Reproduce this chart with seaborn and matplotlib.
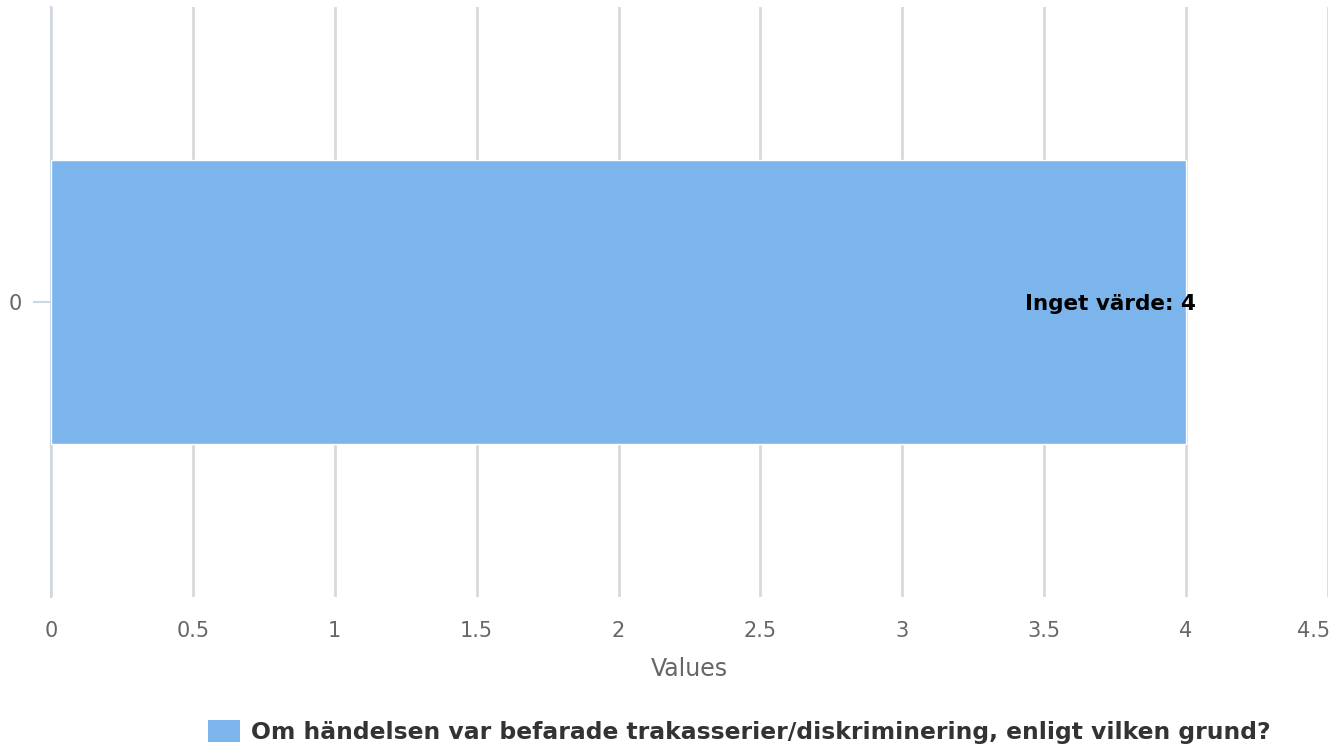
import matplotlib
matplotlib.use("Agg")
import matplotlib.pyplot as plt
import seaborn as sns
import pandas as pd
from matplotlib.patches import Patch
from matplotlib.transforms import offset_copy, ScaledTranslation

categories = ["0"]
values = [4]
label_prefix = "Inget värde"
series_name = "Om händelsen var befarade trakasserier/diskriminering, enligt vilken grund?"
x_ticks = [0, 0.5, 1, 1.5, 2, 2.5, 3, 3.5, 4, 4.5]
x_tick_labels = ["0", "0.5", "1", "1.5", "2", "2.5", "3", "3.5", "4", "4.5"]

sns.set_style("white")
plt.rcParams['font.family'] = ['DejaVu Sans']

df = pd.DataFrame({"cat": categories, "val": values})

fig = plt.figure(figsize=(13.43, 7.49), dpi=100)
ax = fig.add_axes([0.038, 0.203, 0.9508, 0.7877])

sns.barplot(data=df, x="val", y="cat", orient="h", color="#7cb5ec",
            saturation=1, width=0.48, ax=ax, zorder=3, edgecolor="white", linewidth=1)

ax.set_xlim(0, 4.5)
ax.set_ylim(0.5, -0.5)
ax.set_xticks(x_ticks)
ax.set_xticklabels(x_tick_labels)
ax.grid(axis="x", color="#d9d9d9", linewidth=2, zorder=0)
ax.grid(axis="y", visible=False)
ax.set_axisbelow(True)

for s in ["top", "right", "bottom"]:
    ax.spines[s].set_visible(False)
ax.spines["left"].set_color("#ccd6eb")
ax.spines["left"].set_linewidth(1.5)

ax.tick_params(axis="x", bottom=False, length=0, pad=17, labelsize=15, labelcolor="#666666")
ax.tick_params(axis="y", left=True, length=13, width=1.5, color="#ccd6eb", pad=8,
               labelsize=15, labelcolor="#666666")
ax.set_ylabel("")
ax.set_xlabel("Values", fontsize=17, color="#666666", labelpad=12)

# keep last tick label inside the figure
last = ax.get_xticklabels()[-1]
last.set_transform(last.get_transform() + ScaledTranslation(-0.14, 0, fig.dpi_scale_trans))

trans = offset_copy(ax.transData, fig=fig, x=10, y=-2, units="dots")
for c, v in zip(categories, values):
    ax.text(v, 0, f"{label_prefix}: {v}", ha="right", va="center",
            fontsize=15.5, fontweight="bold", color="black", transform=trans, zorder=5)

handle = Patch(facecolor="#7cb5ec", edgecolor="none")
fig.legend([handle], [series_name], loc="center", bbox_to_anchor=(0.5503, 0.0227),
           frameon=False, prop={"size": 16.9, "weight": "bold"},
           labelcolor="#333333", handlelength=1.4, handleheight=1.1, handletextpad=0.45)

fig.savefig("out.png", dpi=100)
